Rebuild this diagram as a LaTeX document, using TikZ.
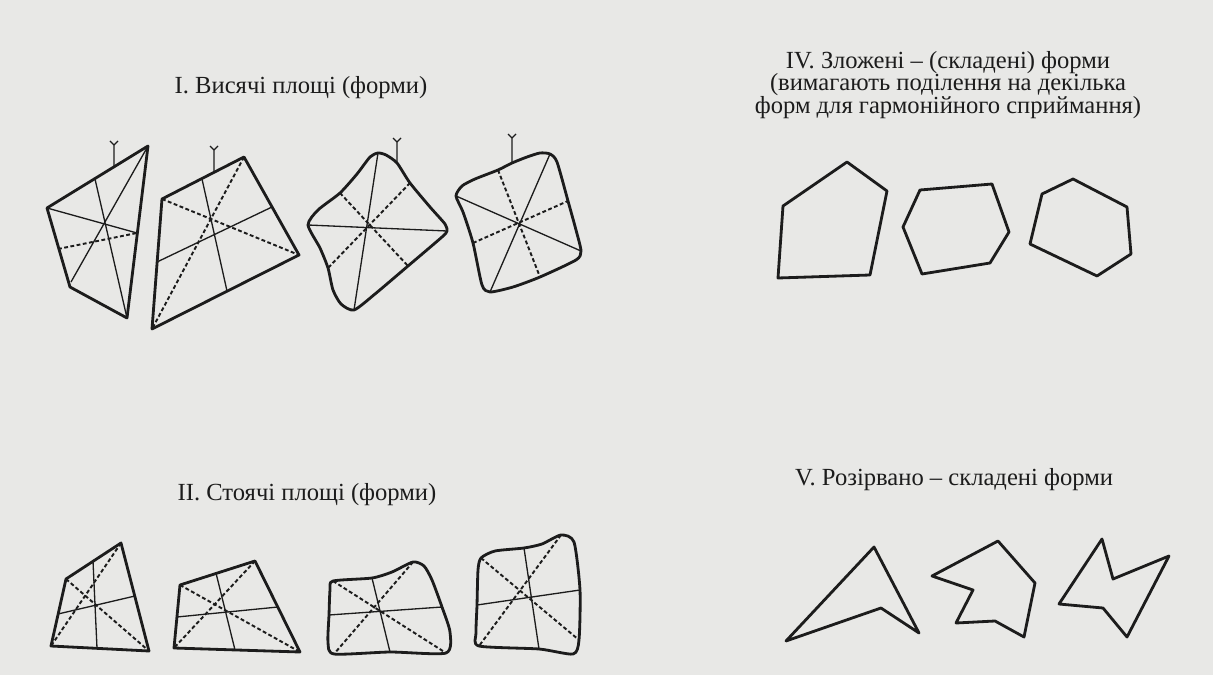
\documentclass[tikz,border=0pt]{standalone}
\usepackage{fontspec}
\setmainfont{Liberation Serif}
\definecolor{paper}{RGB}{232,232,230}
\definecolor{ink}{RGB}{28,28,28}
\begin{document}
\begin{tikzpicture}[
            x=0.02cm, y=-0.02cm,
            outline/.style={draw=ink, line width=1.6pt, line join=round},
            thinline/.style={draw=ink, line width=0.75pt},
            dashline/.style={draw=ink, line width=1.1pt, dash pattern=on 2.2pt off 1.4pt},
            hanger/.style={draw=ink, line width=0.75pt},
            heading/.style={text=ink, font=\fontsize{14}{13}\selectfont, align=center, inner sep=0pt}
        ]
            \fill[paper] (0,0) rectangle (1213,675);
            \useasboundingbox (0,0) rectangle (1213,675);

            \node[heading] (title1) at (301,88) {I. Висячі площі (форми)};
            \node[heading] (title2) at (307,495) {II. Стоячі площі (форми)};
            \node[heading] (title4) at (948,85) {IV. Зложені – (складені) форми\\(вимагають поділення на декілька\\форм для гармонійного сприймання)};
            \node[heading] (title5) at (954,480) {V. Розірвано – складені форми};

            \coordinate (a1) at (148,146);
            \coordinate (b1) at (47,208);
            \coordinate (c1) at (70,287);
            \coordinate (d1) at (127,318);
            \coordinate (e1) at (137,233);
            \coordinate (f1) at (58,249);
            \coordinate (g1) at (71,282);
            \coordinate (k1) at (95,179);
            \coordinate (h1) at (114,167);
            \coordinate (s1) at (114,145);
            \draw[outline] (a1)--(b1)--(c1)--(d1)--cycle;
            \draw[thinline] (b1)--(e1) (a1)--(g1) (k1)--(d1);
            \draw[dashline] (f1)--(e1);
            \draw[hanger] (h1)--(s1)--++(-4,-4) (s1)--++(4,-4);

            \coordinate (a2) at (244,157);
            \coordinate (b2) at (162,199);
            \coordinate (c2) at (152,329);
            \coordinate (d2) at (299,255);
            \coordinate (e2) at (272,207);
            \coordinate (f2) at (157,262);
            \coordinate (k2) at (202,179);
            \coordinate (m2) at (227,291);
            \coordinate (h2) at (214,172);
            \coordinate (s2) at (214,150);
            \draw[outline] (a2)--(b2)--(c2)--(d2)--cycle;
            \draw[thinline] (k2)--(m2) (f2)--(e2);
            \draw[dashline] (b2)--(d2) (a2)--(c2);
            \draw[hanger] (h2)--(s2)--++(-4,-4) (s2)--++(4,-4);

            \coordinate (t3) at (378,153);
            \coordinate (h3) at (397,163);
            \coordinate (k3) at (410,183);
            \coordinate (r3) at (447,231);
            \coordinate (m3) at (408,266);
            \coordinate (u3) at (354,310);
            \coordinate (f3) at (328,268);
            \coordinate (l3) at (308,225);
            \coordinate (e3) at (340,193);
            \coordinate (s3) at (397,142);
            \draw[outline] plot[smooth cycle, tension=0.4] coordinates {(t3) (386,155) (h3) (k3) (430,207) (445,224) (r3) (442,237) (m3) (375,294) (u3) (341,304) (333,290) (f3) (320,248) (l3) (318,210) (e3) (357,174) (370,157)};
            \draw[thinline] (l3)--(r3) (t3)--(u3);
            \draw[dashline] (e3)--(m3) (k3)--(f3);
            \draw[hanger] (h3)--(s3)--++(-4,-4) (s3)--++(4,-4);

            \coordinate (l4) at (456,196);
            \coordinate (k4) at (498,170);
            \coordinate (h4) at (512,163);
            \coordinate (t4) at (550,154);
            \coordinate (e4) at (568,201);
            \coordinate (r4) at (581,251);
            \coordinate (m4) at (540,277);
            \coordinate (u4) at (490,292);
            \coordinate (f4) at (473,243);
            \coordinate (s4) at (512,138);
            \draw[outline] plot[smooth cycle, tension=0.4] coordinates {(l4) (462,186) (475,179) (k4) (h4) (527,157) (540,153) (t4) (557,162) (e4) (576,230) (r4) (576,260) (m4) (513,287) (u4) (482,285) (f4) (463,212)};
            \draw[thinline] (l4)--(r4) (t4)--(u4);
            \draw[dashline] (k4)--(m4) (f4)--(e4);
            \draw[hanger] (h4)--(s4)--++(-4,-4) (s4)--++(4,-4);

            \coordinate (a5) at (121,543);
            \coordinate (b5) at (66,579);
            \coordinate (c5) at (51,646);
            \coordinate (d5) at (149,651);
            \coordinate (e5) at (135,596);
            \coordinate (f5) at (58,614);
            \coordinate (k5) at (93,561);
            \coordinate (m5) at (97,648);
            \draw[outline] (a5)--(b5)--(c5)--(d5)--cycle;
            \draw[thinline] (k5)--(m5) (f5)--(e5);
            \draw[dashline] (a5)--(c5) (b5)--(d5);

            \coordinate (a6) at (255,561);
            \coordinate (b6) at (180,585);
            \coordinate (c6) at (174,648);
            \coordinate (d6) at (300,652);
            \coordinate (e6) at (278,607);
            \coordinate (f6) at (177,617);
            \coordinate (k6) at (216,573);
            \coordinate (m6) at (235,650);
            \draw[outline] (a6)--(b6)--(c6)--(d6)--cycle;
            \draw[thinline] (k6)--(m6) (f6)--(e6);
            \draw[dashline] (a6)--(c6) (b6)--(d6);

            \coordinate (b7) at (333,581);
            \coordinate (k7) at (372,578);
            \coordinate (a7) at (413,562);
            \coordinate (e7) at (442,607);
            \coordinate (d7) at (446,653);
            \coordinate (m7) at (390,652);
            \coordinate (c7) at (334,654);
            \coordinate (f7) at (329,615);
            \draw[outline] plot[smooth cycle, tension=0.4] coordinates {(b7) (k7) (392,572) (a7) (424,566) (432,580) (e7) (450,632) (d7) (m7) (c7) (328,642) (f7) (330,590)};
            \draw[thinline] (k7)--(m7) (f7)--(e7);
            \draw[dashline] (b7)--(d7) (a7)--(c7);

            \coordinate (b8) at (481,558);
            \coordinate (k8) at (524,548);
            \coordinate (a8) at (561,535);
            \coordinate (e8) at (580,590);
            \coordinate (d8) at (579,640);
            \coordinate (m8) at (539,649);
            \coordinate (c8) at (479,646);
            \coordinate (f8) at (477,605);
            \draw[outline] plot[smooth cycle, tension=0.4] coordinates {(b8) (495,551) (k8) (542,544) (a8) (574,542) (e8) (d8) (573,654) (m8) (c8) (476,633) (f8) (478,570)};
            \draw[thinline] (k8)--(m8) (f8)--(e8);
            \draw[dashline] (b8)--(d8) (a8)--(c8);

            \draw[outline] (847,162)--(887,191)--(870,275)--(778,278)--(783,206)--cycle;
            \draw[outline] (920,190)--(992,184)--(1009,232)--(990,263)--(922,274)--(903,227)--cycle;
            \draw[outline] (1073,179)--(1127,207)--(1131,254)--(1097,276)--(1030,244)--(1042,194)--cycle;

            \draw[outline] (874,547)--(919,633)--(881,608)--(786,641)--cycle;
            \draw[outline] (998,541)--(1035,583)--(1024,637)--(995,621)--(956,623)--(973,590)--(932,576)--cycle;
            \draw[outline] (1102,539)--(1113,579)--(1169,556)--(1127,637)--(1103,608)--(1059,604)--cycle;
        \end{tikzpicture}
\end{document}
